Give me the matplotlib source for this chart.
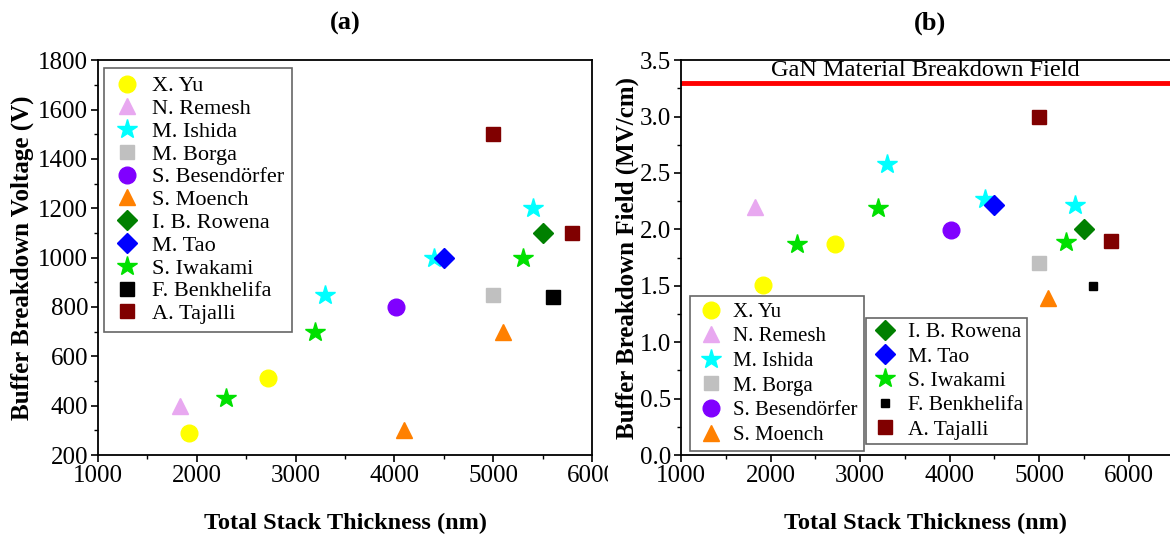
import matplotlib.pyplot as plt
from matplotlib.transforms import Bbox, TransformedBbox

plt.rcParams['font.family'] = ['Liberation Serif', 'DejaVu Serif']
plt.rcParams['mathtext.fontset'] = 'stix'

names = ["X. Yu", "N. Remesh", "M. Ishida", "M. Borga", "S. Besendörfer",
         "S. Moench", "I. B. Rowena", "M. Tao", "S. Iwakami", "F. Benkhelifa",
         "A. Tajalli"]
colors = ["#FFFF00", "#E8A8F0", "#00FFFF", "#C0C0C0", "#8000FF",
          "#FF8000", "#008000", "#0000FF", "#00E000", "#000000", "#800000"]
markers = ["o", "^", "*", "s", "o", "^", "D", "D", "*", "s", "s"]
msizes = [12, 12, 15, 10, 12, 12, 10, 10, 15, 10, 10]

# (a) breakdown voltage
thick_a = [[1920, 2720], [1830], [3300, 4400, 5400], [5000], [4020],
           [4100, 5100], [5500], [4500], [2300, 3200, 5300], [5600], [5000, 5800]]
volt_a = [[290, 510], [400], [850, 1000, 1200], [850], [800],
          [300, 700], [1100], [1000], [430, 700, 1000], [840], [1500, 1100]]

# (b) breakdown field
thick_b = [[1920, 2720], [1830], [3300, 4400, 5400], [5000], [4020],
           [5100], [5500], [4500], [2300, 3200, 5300], [5600], [5000, 5800]]
field_b = [[1.51, 1.87], [2.2], [2.58, 2.27, 2.22], [1.7], [1.99],
           [1.39], [2.0], [2.22], [1.87, 2.19, 1.89], [1.5], [3.0, 1.9]]
msizes_b = [12, 12, 15, 10, 12, 12, 10, 10, 15, 6, 10]

gan_field = 3.3

fig = plt.figure(figsize=(11.7, 5.37), dpi=100)
ax1 = fig.add_axes([0.0838, 0.1527, 0.4222, 0.7353])
ax2 = fig.add_axes([0.582, 0.1527, 0.418, 0.7353])

h1 = []
for i in range(len(names)):
    l, = ax1.plot(thick_a[i], volt_a[i], linestyle='none', marker=markers[i],
                  color=colors[i], markersize=msizes[i], label=names[i])
    h1.append(l)

h2 = []
for i in range(len(names)):
    l, = ax2.plot(thick_b[i], field_b[i], linestyle='none', marker=markers[i],
                  color=colors[i], markersize=msizes_b[i], label=names[i])
    h2.append(l)

ax2.axhline(gan_field, color='#FF0000', linewidth=3.5, zorder=1)
ax2.text(3730, 3.41, "GaN Material Breakdown Field", ha='center', va='center',
         fontsize=17.5)

ax1.set_xlim(1000, 6000)
ax1.set_ylim(200, 1800)
ax1.set_xticks([1000, 2000, 3000, 4000, 5000, 6000])
ax1.set_xticks([1500, 2500, 3500, 4500, 5500], minor=True)
ax1.set_yticks(range(200, 1801, 200))
ax1.set_yticks(range(300, 1800, 200), minor=True)

ax2.set_xlim(1000, 6460)
ax2.set_ylim(0, 3.5)
ax2.set_xticks([1000, 2000, 3000, 4000, 5000, 6000])
ax2.set_xticks([1500, 2500, 3500, 4500, 5500], minor=True)
ax2.set_yticks([0, 0.5, 1.0, 1.5, 2.0, 2.5, 3.0, 3.5])
ax2.set_yticks([0.25, 0.75, 1.25, 1.75, 2.25, 2.75, 3.25], minor=True)
ax2.set_yticklabels(["0.0", "0.5", "1.0", "1.5", "2.0", "2.5", "3.0", "3.5"])

for ax in (ax1, ax2):
    ax.tick_params(axis='both', which='major', labelsize=18, length=5,
                   width=1.2, direction='out', pad=2)
    ax.tick_params(axis='both', which='minor', length=3, width=1.0)
    for s in ax.spines.values():
        s.set_linewidth(1.3)
    ax.set_xlabel("Total Stack Thickness (nm)", fontsize=17.5, fontweight='bold',
                  labelpad=19)

ax1.set_ylabel("Buffer Breakdown Voltage (V)", fontsize=18, fontweight='bold',
               labelpad=3)
ax2.set_ylabel("Buffer Breakdown Field (MV/cm)", fontsize=18, fontweight='bold',
               labelpad=1)
ax2.spines['right'].set_visible(False)

ax1.set_title("(a)", fontsize=19, fontweight='bold', pad=22)
ax2.set_title("(b)", fontsize=19, fontweight='bold', pad=22, x=0.51)

leg_kw = dict(frameon=True, fancybox=False, edgecolor='#404040',
              handlelength=1.4, borderaxespad=0.0)
lg1 = ax1.legend(handles=h1, loc='upper left', bbox_to_anchor=(0.012, 0.98),
                 fontsize=16, labelspacing=0.1, borderpad=0.35,
                 handletextpad=0.4, **leg_kw)
lg1.get_frame().set_linewidth(1.2)

lg2a = ax2.legend(handles=h2[:6], loc='lower left', bbox_to_anchor=(0.018, 0.01),
                  fontsize=15, labelspacing=0.24, borderpad=0.3,
                  handletextpad=0.4, **leg_kw)
lg2a.get_frame().set_linewidth(1.2)
ax2.add_artist(lg2a)
lg2b = ax2.legend(handles=h2[6:], loc='lower left', bbox_to_anchor=(0.378, 0.028),
                  fontsize=15.5, labelspacing=0.2, borderpad=0.2,
                  handletextpad=0.35, **leg_kw)
lg2b.get_frame().set_linewidth(1.2)

# the left panel's last tick label is cut off by the right panel in the original
fig.canvas.draw()
clip = TransformedBbox(Bbox([[0, 0], [608 / 1170, 1]]), fig.transFigure)
for lab in ax1.get_xticklabels():
    lab.set_clip_box(clip)
    lab.set_clip_on(True)

fig.savefig("out.png", dpi=100)
